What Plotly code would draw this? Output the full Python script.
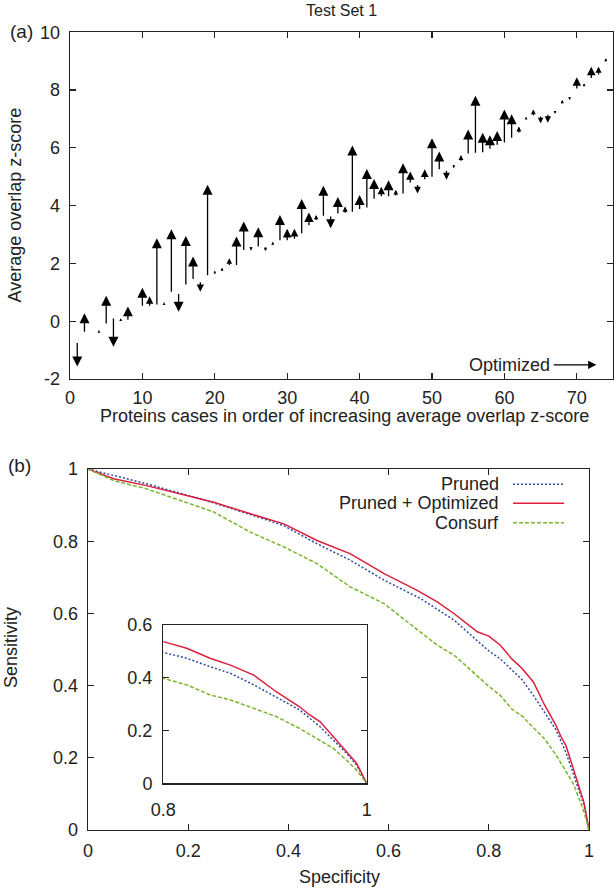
import plotly.graph_objects as go

W, H = 616, 890
FONT = "Liberation Sans, Arial, Helvetica, sans-serif"
INK = "#222222"

# ---------------- Panel (a) data ----------------
case_index = [1, 2, 3, 4, 5, 6, 7, 8, 10, 11, 12, 13, 14, 15, 16, 17, 18, 19, 20,
              21, 22, 23, 24, 25, 26, 27, 28, 29, 30, 31, 32, 33, 34, 35, 36, 37, 38,
              39, 40, 41, 42, 43, 44, 45, 46, 47, 48, 49, 50, 51, 52, 53, 54, 55, 56,
              57, 58, 59, 60, 61, 62, 63, 64, 65, 66, 67, 68, 69, 70, 71, 72, 73, 74]
pruned_z = [-0.70, -0.42, -0.45, -0.38, -0.13, 0.15, 0.00, 0.00, 0.48, 0.48, 0.53,
            0.58, 0.97, 0.99, 1.22, 1.41, 1.40, 1.54, 1.65, 1.70, 1.89, 1.89, 2.41,
            2.62, 2.53, 2.60, 2.60, 2.75, 2.75, 2.80, 2.99, 3.27, 3.45, 3.60, 3.68,
            3.68, 3.70, 3.74, 3.83, 3.88, 4.19, 4.27, 4.27, 4.30, 4.37, 4.75, 4.77,
            4.86, 4.95, 5.21, 5.26, 5.44, 5.50, 5.75, 5.78, 5.80, 5.92, 6.06, 6.13,
            6.30, 6.48, 6.97, 7.08, 7.14, 7.20, 7.30, 7.49, 7.80, 8.00, 8.12, 8.37,
            8.49, 8.95]
optimized_z = [-1.57, 0.28, -0.52, -0.30, 0.88, -0.88, 0.10, 0.51, 1.16, 0.86, 2.87,
               0.66, 3.18, 0.33, 2.95, 2.24, 1.02, 4.72, 1.75, 1.85, 2.18, 2.93, 3.45,
               2.45, 3.25, 2.43, 2.75, 3.68, 3.20, 3.20, 4.23, 3.76, 3.68, 4.69, 3.22,
               4.30, 3.97, 6.08, 4.37, 5.27, 4.92, 4.65, 4.88, 4.55, 5.47, 5.18, 4.42,
               5.26, 6.33, 5.87, 4.90, 5.30, 5.75, 6.64, 7.80, 6.52, 6.44, 6.58, 7.33,
               7.16, 6.74, 7.08, 7.33, 6.85, 6.87, 7.18, 7.66, 7.66, 8.44, 8.23, 8.81,
               8.81, 9.10]
a_xticks = [0, 10, 20, 30, 40, 50, 60, 70]
a_yticks = [-2, 0, 2, 4, 6, 8, 10]
a_yticktext = ["-2", "0", "2", "4", "6", "8", "10"]

# ---------------- Panel (b) data ----------------
spec_pruned = [0, 0.051, 0.117, 0.184, 0.251, 0.324, 0.391, 0.457, 0.524, 0.591, 0.664,
               0.731, 0.800, 0.823, 0.846, 0.866, 0.889, 0.911, 0.934, 0.954, 0.967,
               0.980, 0.990, 1.0]
sens_pruned = [1, 0.982, 0.959, 0.933, 0.906, 0.874, 0.843, 0.793, 0.747, 0.692, 0.641,
               0.581, 0.496, 0.474, 0.442, 0.417, 0.373, 0.328, 0.278, 0.215, 0.164,
               0.114, 0.069, 0]
spec_opt = [0, 0.051, 0.117, 0.184, 0.251, 0.324, 0.391, 0.457, 0.524, 0.591, 0.657,
            0.697, 0.731, 0.777, 0.800, 0.823, 0.846, 0.866, 0.889, 0.911, 0.934, 0.944,
            0.954, 0.967, 0.980, 0.990, 1.0]
sens_opt = [1, 0.973, 0.954, 0.931, 0.908, 0.876, 0.848, 0.802, 0.765, 0.710, 0.664,
            0.632, 0.599, 0.549, 0.537, 0.512, 0.474, 0.448, 0.410, 0.347, 0.290, 0.259,
            0.234, 0.177, 0.120, 0.076, 0]
spec_consurf = [0, 0.051, 0.117, 0.184, 0.251, 0.324, 0.391, 0.457, 0.524, 0.591, 0.664,
                0.697, 0.731, 0.800, 0.823, 0.846, 0.866, 0.889, 0.911, 0.934, 0.954,
                0.967, 0.980, 0.990, 1.0]
sens_consurf = [1, 0.968, 0.945, 0.913, 0.881, 0.825, 0.784, 0.738, 0.673, 0.627, 0.549,
                0.512, 0.484, 0.398, 0.373, 0.335, 0.316, 0.284, 0.253, 0.208, 0.164,
                0.133, 0.088, 0.050, 0]
b_ticks = [0, 0.2, 0.4, 0.6, 0.8, 1]
b_ticktext = ["0", "0.2", "0.4", "0.6", "0.8", "1"]
inset_xticks = [0.8, 1]
inset_xticktext = ["0.8", "1"]
inset_yticks = [0, 0.2, 0.4, 0.6]
inset_yticktext = ["0", "0.2", "0.4", "0.6"]

series_names = ["Pruned", "Pruned + Optimized", "Consurf"]
series_colors = ["#2e4a9e", "#dc1f3d", "#79b52c"]
series_dash = ["2px,2px", "solid", "4px,2px"]
series_spec = [spec_pruned, spec_opt, spec_consurf]
series_sens = [sens_pruned, sens_opt, sens_consurf]


def px_x(p):
    return p / W


def px_y(p):
    return 1 - p / H


fig = go.Figure()

# invisible anchor trace for panel (a)
fig.add_trace(go.Scatter(x=case_index, y=pruned_z, mode="markers",
                         marker=dict(size=1, opacity=0), hoverinfo="skip",
                         showlegend=False, xaxis="x", yaxis="y"))

for name, col, dash, sx, sy in zip(series_names, series_colors, series_dash,
                                    series_spec, series_sens):
    fig.add_trace(go.Scatter(x=sx, y=sy, mode="lines", name=name,
                             line=dict(color=col, width=1.5, dash=dash),
                             showlegend=False, xaxis="x2", yaxis="y2"))
    fig.add_trace(go.Scatter(x=sx, y=sy, mode="lines", name=name,
                             line=dict(color=col, width=1.5, dash=dash),
                             showlegend=False, xaxis="x3", yaxis="y3"))

# y-scale of panel (a) in pixels per unit, for head sizing
a_top, a_bot = 32.3, 379.0
ppu = (a_bot - a_top) / 12.0

annotations = []
for xi, b, t in zip(case_index, pruned_z, optimized_z):
    L = abs(t - b) * ppu
    scale = min(2.0, max(0.55, L / 7.5))
    lw = 1.3
    annotations.append(dict(x=xi, y=t, ax=xi, ay=b, xref="x", yref="y",
                            axref="x", ayref="y", text="", showarrow=True,
                            arrowhead=2, arrowwidth=lw, arrowsize=scale / lw,
                            arrowcolor="#000000", standoff=0))

# "Optimized" note with arrow
annotations.append(dict(x=66.6, y=-1.51, xref="x", yref="y", text="Optimized",
                        showarrow=False, xanchor="right", yanchor="middle",
                        font=dict(family=FONT, size=18, color=INK)))
annotations.append(dict(x=72.7, y=-1.51, ax=66.6, ay=-1.51, xref="x", yref="y",
                        axref="x", ayref="y", text="", showarrow=True, arrowhead=2,
                        arrowwidth=1.1, arrowsize=1.5, arrowcolor="#000000",
                        standoff=0))


def paper_text(txt, x, y, size=18, angle=0, xanchor="center"):
    annotations.append(dict(x=px_x(x), y=px_y(y), xref="paper", yref="paper",
                            text=txt, showarrow=False, textangle=angle,
                            xanchor=xanchor, yanchor="middle",
                            font=dict(family=FONT, size=size, color=INK)))


paper_text("Test Set 1", 341, 10, size=16)
paper_text("(a)", 21, 31, size=19)
paper_text("(b)", 19, 465, size=19)
paper_text("Average overlap z-score", 15, 205.5, angle=-90)
paper_text("Proteins cases in order of increasing average overlap z-score", 344, 416)
paper_text("Sensitivity", 11, 648, angle=-90)
paper_text("Specificity", 339, 877)

# custom key (text on the left, line sample on the right)
shapes = []
key_rows = [484.3, 503.3, 522.7]
for name, col, dash, ry in zip(series_names, series_colors, series_dash, key_rows):
    paper_text(name, 501, ry, xanchor="right")
    shapes.append(dict(type="line", xref="paper", yref="paper",
                       x0=px_x(513), x1=px_x(564), y0=px_y(ry), y1=px_y(ry),
                       line=dict(color=col, width=1.5, dash=dash)))

axis_common = dict(showgrid=False, zeroline=False, showline=True, linecolor=INK,
                   linewidth=1.3, ticks="inside", ticklen=6, tickwidth=1.2,
                   tickcolor=INK, mirror="ticks", automargin=False,
                   tickfont=dict(family=FONT, size=18, color=INK))

fig.update_layout(
    template="none",
    width=W, height=H,
    margin=dict(l=0, r=0, t=0, b=0, pad=0, autoexpand=False),
    paper_bgcolor="white", plot_bgcolor="white",
    showlegend=False,
    xaxis=dict(domain=[px_x(70), px_x(613)], range=[0, 75], anchor="y",
               tickvals=a_xticks, ticklabelstandoff=2, **axis_common),
    yaxis=dict(domain=[px_y(a_bot), px_y(a_top)], range=[-2, 10], anchor="x",
               tickvals=a_yticks, ticktext=a_yticktext, ticklabelstandoff=5,
               **axis_common),
    xaxis2=dict(domain=[px_x(88), px_x(589)], range=[0, 1], anchor="y2",
                tickvals=b_ticks, ticktext=b_ticktext, ticklabelstandoff=4,
                **axis_common),
    yaxis2=dict(domain=[px_y(830), px_y(469)], range=[0, 1], anchor="x2",
                tickvals=b_ticks, ticktext=b_ticktext, ticklabelstandoff=5,
                **axis_common),
    xaxis3=dict(domain=[px_x(163.3), px_x(366.7)], range=[0.8, 1], anchor="y3",
                tickvals=inset_xticks, ticktext=inset_xticktext,
                ticklabelstandoff=10, **axis_common),
    yaxis3=dict(domain=[px_y(783.3), px_y(625)], range=[0, 0.6], anchor="x3",
                tickvals=inset_yticks, ticktext=inset_yticktext,
                ticklabelstandoff=6, **axis_common),
    annotations=annotations,
    shapes=shapes,
)

fig.write_html("out.html",
               config={"displayModeBar": False, "staticPlot": True},
               post_script="document.body.style.margin='0';"
                           "document.body.style.padding='0';"
                           "document.body.style.overflow='hidden';")
